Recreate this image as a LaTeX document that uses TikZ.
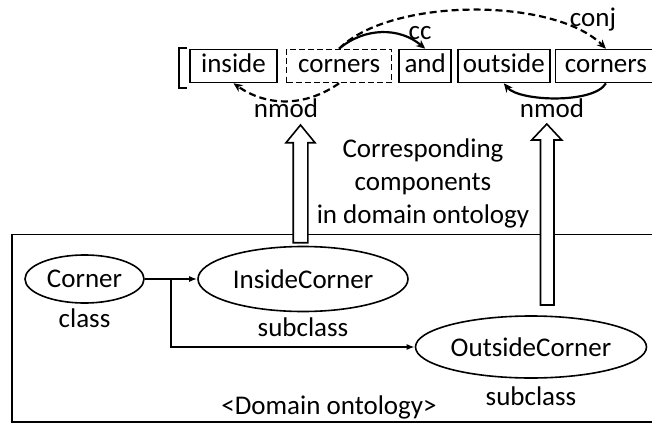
\documentclass[tikz,border=0pt]{standalone}
\usepackage{fontspec}
\setmainfont{Carlito}
\usetikzlibrary{calc}
\usetikzlibrary{positioning}
\usetikzlibrary{arrows.meta,shapes.geometric}
\tikzset{
  word/.style={draw, line width=1.6pt, minimum height=33pt, inner sep=0pt, text height=19pt, text depth=6pt},
  dep/.style={line width=2.2pt, -{Stealth[length=9pt,width=8pt]}},
  depdash/.style={dash pattern=on 7pt off 4pt},
  cls/.style={draw, ellipse, line width=1.6pt, inner sep=0pt},
  isa/.style={line width=1.9pt, -{Latex[length=8pt,width=6pt]}},
  hollow/.style={draw, fill=white, line width=1.6pt},
  tag/.style={inner sep=0pt}
}

\begin{document}
\begin{tikzpicture}[x=1pt, y=1pt, font=\fontsize{27}{33}\selectfont]
  \useasboundingbox (0,0) rectangle (652,424);

  % the sentence
  \node[word, minimum width=87pt] (inside) at (233.5,358) {inside};
  \node[word, dash pattern=on 6pt off 3pt, minimum width=105pt, right=8pt of inside] (corners) {corners};
  \node[word, minimum width=52pt, right=6pt of corners] (and) {and};
  \node[word, minimum width=92pt, right=5pt of and] (outside) {outside};
  \node[word, minimum width=101pt, right=4pt of outside] (corners2) {corners};
  \draw[line width=2.4pt] ([xshift=-2pt,yshift=18pt]inside.west) -- ++(-8,0) -- ++(0,-40) -- ++(8,0);

  \draw[dep, depdash] (corners.north) to[out=45, in=135, looseness=0.7] (corners2.north);
  \draw[dep] (corners.north) to[out=40, in=140] (and.north);
  \draw[dep, depdash] (corners.south) to[out=-145, in=-35] (inside.south);
  \draw[dep] (corners2.south) to[out=-120, in=-50, looseness=0.6] (outside.south);

  \node[tag, anchor=base] (cclbl) at (420,384) {cc};
  \node[tag, anchor=base] (conjlbl) at (593,397) {conj};
  \node[tag, anchor=base] (nmodlbl) at (286,307) {nmod};
  \node[tag, anchor=base] (nmodlbl2) at (552,307) {nmod};

  \node[align=center] (corr) at (423,241) {Corresponding\\components\\in domain ontology};

  % domain ontology
  \draw[line width=1.6pt] (12,2.3) rectangle (690,189.7);
  \draw[hollow] (293.2,181.3) -- (293.2,281.3) -- (286,281.3) -- (300.5,299) -- (315,281.3) -- (307.8,281.3) -- (307.8,181.3) -- cycle;
  \draw[hollow] (540.5,119) -- (540.5,284) -- (531.7,284) -- (546.8,300) -- (561.7,284) -- (554,284) -- (554,119) -- cycle;

  \node[cls, minimum width=119pt, minimum height=48pt] (corner) at (84.5,145) {Corner};
  \node[cls, minimum width=210pt, minimum height=65pt] (insidecls) at (303,145) {InsideCorner};
  \node[cls, minimum width=231pt, minimum height=62pt] (outsidecls) at (531,77) {OutsideCorner};
  \node[tag, below=5pt of corner] (classlbl) {class};
  \node[tag, below=5pt of insidecls] (sublbl) {subclass};
  \node[tag, below=8pt of outsidecls] (sublbl2) {subclass};
  \node[tag] (domlbl) at (329,17) {<Domain ontology>};

  \coordinate (fork) at ($(corner.east)+(26,0)$);
  \draw[isa] (corner) -- (insidecls);
  \draw[isa] (fork) |- (outsidecls);
\end{tikzpicture}
\end{document}
